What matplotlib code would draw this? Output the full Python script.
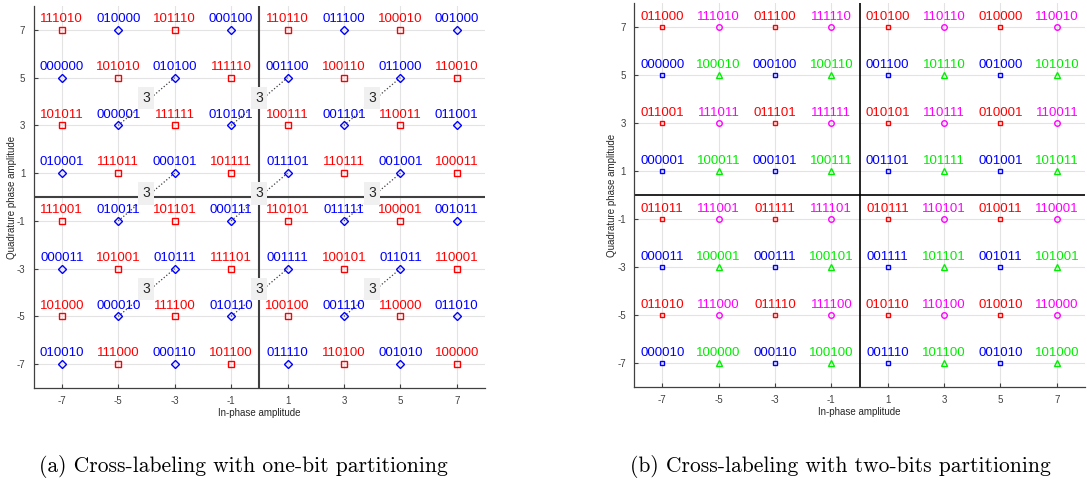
import numpy as np
import matplotlib
matplotlib.use("Agg")
import matplotlib.pyplot as plt

plt.rcParams['font.family'] = ['Liberation Sans', 'DejaVu Sans']
plt.rcParams['axes.unicode_minus'] = False

levels = [-7, -5, -3, -1, 1, 3, 5, 7]
rows_y = [7, 5, 3, 1, -1, -3, -5, -7]

# one-bit partitioning, rows top to bottom, columns left to right
labels_a = [
    ["111010", "010000", "101110", "000100", "110110", "011100", "100010", "001000"],
    ["000000", "101010", "010100", "111110", "001100", "100110", "011000", "110010"],
    ["101011", "000001", "111111", "010101", "100111", "001101", "110011", "011001"],
    ["010001", "111011", "000101", "101111", "011101", "110111", "001001", "100011"],
    ["111001", "010011", "101101", "000111", "110101", "011111", "100001", "001011"],
    ["000011", "101001", "010111", "111101", "001111", "100101", "011011", "110001"],
    ["101000", "000010", "111100", "010110", "100100", "001110", "110000", "011010"],
    ["010010", "111000", "000110", "101100", "011110", "110100", "001010", "100000"],
]

# two-bits partitioning
labels_b = [
    ["011000", "111010", "011100", "111110", "010100", "110110", "010000", "110010"],
    ["000000", "100010", "000100", "100110", "001100", "101110", "001000", "101010"],
    ["011001", "111011", "011101", "111111", "010101", "110111", "010001", "110011"],
    ["000001", "100011", "000101", "100111", "001101", "101111", "001001", "101011"],
    ["011011", "111001", "011111", "111101", "010111", "110101", "010011", "110001"],
    ["000011", "100001", "000111", "100101", "001111", "101101", "001011", "101001"],
    ["011010", "111000", "011110", "111100", "010110", "110100", "010010", "110000"],
    ["000010", "100000", "000110", "100100", "001110", "101100", "001010", "101000"],
]

# distance markers (start point, end point) on the left chart
dist_start = [(-5, 3), (-1, 3), (3, 3), (-5, -1), (-1, -1), (3, -1), (-5, -5), (-1, -5), (3, -5)]
dist_end = [(-3, 5), (1, 5), (5, 5), (-3, 1), (1, 1), (5, 1), (-3, -3), (1, -3), (5, -3)]
dist_text = "3"

caption_a = "(a) Cross-labeling with one-bit partitioning"
caption_b = "(b) Cross-labeling with two-bits partitioning"

style_a = {"1": ("#ff0000", "s", 4.5), "0": ("#0000ff", "D", 3.8)}
style_b = {"01": ("#ff0000", "s", 3.2), "11": ("#ff00ff", "o", 4.0),
           "00": ("#0000ff", "s", 3.2), "10": ("#00ee00", "^", 4.2)}


def setup(ax, axis_color, axis_lw):
    ax.set_xlim(-8, 8)
    ax.set_ylim(-8, 8)
    ax.set_xticks(levels)
    ax.set_yticks(levels)
    ax.grid(True, color="#e3e3e3", linewidth=0.8)
    ax.set_axisbelow(True)
    for s in ["top", "right"]:
        ax.spines[s].set_visible(False)
    for s in ["left", "bottom"]:
        ax.spines[s].set_color("#404040")
        ax.spines[s].set_linewidth(0.9)
    ax.tick_params(direction="in", length=3, labelsize=7, colors="#404040", pad=6)
    ax.axhline(0, color=axis_color, linewidth=axis_lw, zorder=1)
    ax.axvline(0, color=axis_color, linewidth=axis_lw, zorder=1)
    ax.set_xlabel("In-phase amplitude", fontsize=7, color="#262626", labelpad=1)
    ax.set_ylabel("Quadrature phase amplitude", fontsize=7, color="#262626", labelpad=0)


def draw(ax, labels, style, nbits, dy):
    for i, y in enumerate(rows_y):
        for j, x in enumerate(levels):
            lab = labels[i][j]
            col, mk, ms = style[lab[:nbits]]
            ax.plot(x, y, marker=mk, color=col, markerfacecolor="none",
                    markersize=ms, markeredgewidth=1.0, zorder=3)
            ax.text(x, y + dy, lab, color=col, fontsize=9.5, ha="center",
                    va="baseline", zorder=4)


fig = plt.figure(figsize=(10.87, 4.82), dpi=100)
ax1 = fig.add_axes([0.0309, 0.195, 0.4153, 0.7925])
ax2 = fig.add_axes([0.5833, 0.197, 0.4149, 0.7965])

setup(ax1, "#404040", 1.5)
draw(ax1, labels_a, style_a, 1, 0.33)
for (x0, y0), (x1, y1) in zip(dist_start, dist_end):
    ax1.plot([x0, x1], [y0, y1], linestyle=":", color="#404040", linewidth=0.9, zorder=2)
    ax1.text((x0 + x1) / 2, (y0 + y1) / 2 + 0.15, dist_text, fontsize=10, color="#262626",
             ha="center", va="center", zorder=5,
             bbox=dict(boxstyle="square,pad=0.3", facecolor="#f0f0f0", edgecolor="none"))

setup(ax2, "#000000", 1.2)
draw(ax2, labels_b, style_b, 2, 0.3)

fig.text(0.2236, 0.033, caption_a, family="cmr10", fontsize=15.5, ha="center", va="center")
fig.text(0.7727, 0.033, caption_b, family="cmr10", fontsize=15.5, ha="center", va="center")

fig.savefig("out.png", dpi=100)
